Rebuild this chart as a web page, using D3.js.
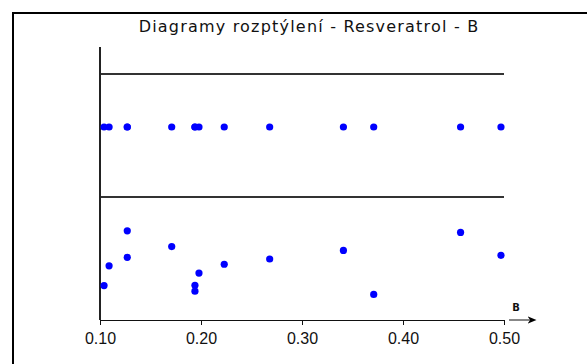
<!DOCTYPE html>
<html>
<head>
<meta charset="utf-8">
<script src="https://cdn.jsdelivr.net/npm/d3@7"></script>
<style>
  body { margin: 0; background: #fff; }
  svg { display: block; font-family: "DejaVu Sans", "Liberation Sans", sans-serif; }
  .tick text { font-size: 16px; fill: #111; }
  .domain, .tick line { stroke: #111; }
</style>
</head>
<body>
<div id="chart"></div>
<script>
const title = "Diagramy rozptýlení - Resveratrol - B"
const axisName = "B"
const tickValues = [0.10, 0.20, 0.30, 0.40, 0.50]

// B values (x) and the second variable for the lower scatter (y, unitless)
const bValues = [0.104, 0.109, 0.127, 0.127, 0.171, 0.194, 0.194, 0.198, 0.223, 0.268, 0.341, 0.371, 0.457, 0.497]
const yValues = [0.282, 0.444, 0.731, 0.514, 0.602, 0.285, 0.236, 0.385, 0.457, 0.500, 0.570, 0.210, 0.718, 0.530]

const W = 587, H = 364
const left = 100, right = 504
const stripTop = 74, stripMid = 197, axisY = 320

const x = d3.scaleLinear()
  .domain([0.10, 0.50])
  .range([left, right])

const y = d3.scaleLinear()
  .domain([0, 1])
  .range([axisY, stripMid + 1])

const svg = d3.select("#chart").append("svg")
  .attr("width", W)
  .attr("height", H)

// outer frame (runs off the right and bottom edges)
svg.append("path")
  .attr("d", `M13,${H + 5} L13,13 L${W + 5},13`)
  .attr("fill", "none")
  .attr("stroke", "#000")
  .attr("stroke-width", 2)

svg.append("text")
  .attr("x", 309)
  .attr("y", 32)
  .attr("text-anchor", "middle")
  .style("font-size", "16px")
  .style("letter-spacing", "1.2px")
  .style("fill", "#111")
  .text(title)

// strip separator lines
svg.selectAll(".sep")
  .data([stripTop, stripMid])
  .enter().append("line")
  .attr("class", "sep")
  .attr("x1", left)
  .attr("x2", right)
  .attr("y1", d => d)
  .attr("y2", d => d)
  .attr("stroke", "#333")
  .attr("stroke-width", 2)

// vertical axis line
svg.append("line")
  .attr("x1", left)
  .attr("x2", left)
  .attr("y1", 47)
  .attr("y2", axisY)
  .attr("stroke", "#222")
  .attr("stroke-width", 2)

svg.append("g")
  .attr("transform", "translate(0," + axisY + ")")
  .call(d3.axisBottom(x)
    .tickValues(tickValues)
    .tickSize(5)
    .tickSizeOuter(0)
    .tickPadding(8)
    .tickFormat(d3.format(".2f")))

// axis arrow and name
svg.append("defs").append("marker")
  .attr("id", "arrow")
  .attr("viewBox", "0 0 10 10")
  .attr("refX", 5)
  .attr("refY", 5)
  .attr("markerWidth", 9)
  .attr("markerHeight", 9)
  .attr("orient", "auto")
  .append("path")
  .attr("d", "M0,1 L10,5 L0,9 L3,5 Z")
  .attr("fill", "#000")

svg.append("line")
  .attr("x1", right + 5)
  .attr("x2", right + 28)
  .attr("y1", axisY)
  .attr("y2", axisY)
  .attr("stroke", "#111")
  .attr("marker-end", "url(#arrow)")

svg.append("text")
  .attr("x", right + 12)
  .attr("y", axisY - 9)
  .attr("text-anchor", "middle")
  .style("font-size", "10px")
  .style("font-weight", "bold")
  .style("fill", "#111")
  .text(axisName)

svg.append("g").selectAll("circle")
  .data(bValues)
  .enter().append("circle")
  .attr("cx", d => x(d))
  .attr("cy", 127)
  .attr("r", 3.6)
  .attr("fill", "#0000ff")

svg.append("g").selectAll("circle")
  .data(bValues.map((b, i) => [b, yValues[i]]))
  .enter().append("circle")
  .attr("cx", d => x(d[0]))
  .attr("cy", d => y(d[1]))
  .attr("r", 3.6)
  .attr("fill", "#0000ff")
</script>
</body>
</html>
